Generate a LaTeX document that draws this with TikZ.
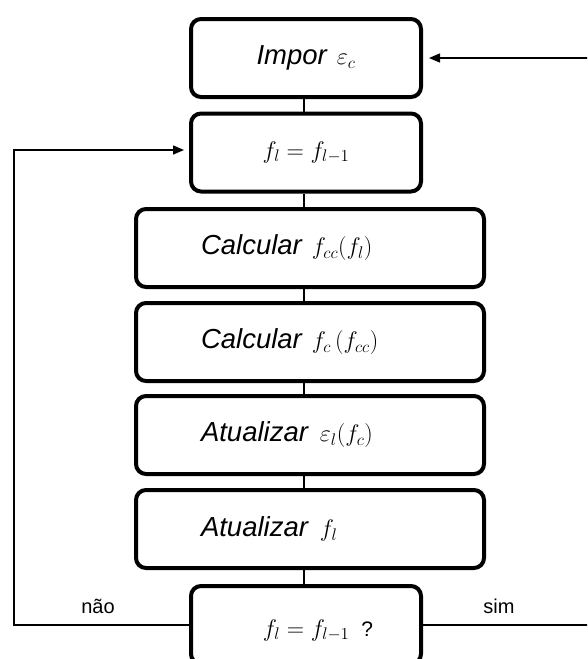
\RequirePackage{fix-cm}
\documentclass[tikz,border=0pt]{standalone}
\usepackage[no-math]{fontspec}
\setmainfont{Liberation Sans}
\usetikzlibrary{arrows.meta,calc}
\newcommand{\mth}[1]{{\fontsize{24pt}{26pt}\selectfont$#1$}}
\begin{document}
\begin{tikzpicture}[x=1pt,y=-1pt,
  box/.style={draw, line width=4pt, rounded corners=10pt, minimum width=230pt,
    minimum height=78pt, inner sep=0pt, font=\fontsize{27.5pt}{30pt}\selectfont\itshape},
  wide/.style={box, minimum width=348pt, text width=218pt, align=left, inner xsep=65pt},
  conn/.style={line width=1.5pt},
  arr/.style={conn, -{Triangle[length=11pt,width=9pt]}},
  lbl/.style={font=\fontsize{20pt}{22pt}\selectfont}]
\useasboundingbox (0,0) rectangle (587,659);
\fill[white] (0,0) rectangle (587,659);
\clip (0,0) rectangle (587,659);

\node[box] (impor) at (306,58) {Impor\hspace{10pt}\mth{\varepsilon_c}};
\node[box] (init) at (306,152.5) {\mth{f_l = f_{l-1}}};
\node[wide] (calc1) at (310,248) {Calcular\hspace{10pt}\mth{f_{cc}(f_l)}};
\node[wide] (calc2) at (310,342) {Calcular\hspace{10pt}\mth{f_c\,(f_{cc})}};
\node[wide] (upd1) at (310,435) {Atualizar\hspace{12pt}\mth{\varepsilon_l(f_c)}};
\node[wide] (upd2) at (310,529) {Atualizar\hspace{12pt}\mth{f_l}};
\node[box] (test) at (306,625) {\raisebox{-11pt}[0pt][0pt]{\hspace*{24pt}\mth{f_l = f_{l-1}}\hspace{12pt}{\upshape\fontsize{21pt}{23pt}\selectfont ?}}};

\coordinate (spine) at (304,0);
\foreach \a/\b in {impor/init, init/calc1, calc1/calc2, calc2/upd1, upd1/upd2, upd2/test}
  \draw[conn] (\a.south -| spine) -- (\b.north -| spine);

\coordinate (lc) at (14,150);
\draw[arr, shorten >=5pt] (test.west) -| (lc) -- (init.west |- lc);

\coordinate (rc) at (600,58);
\draw[arr, shorten >=6pt] (test.east) -| (rc) -- (impor.east);

\node[lbl] (nao) at (98,606) {não};
\node[lbl] (sim) at (499,606) {sim};
\end{tikzpicture}
\end{document}
